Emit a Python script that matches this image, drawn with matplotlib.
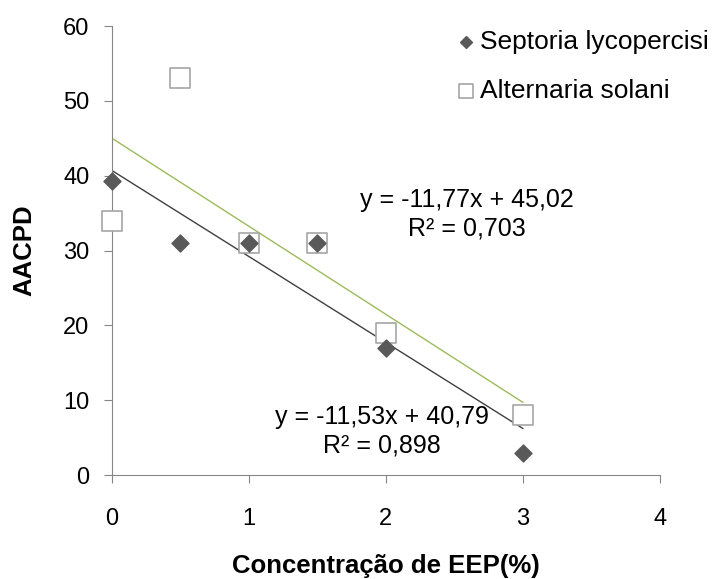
import matplotlib.pyplot as plt
import numpy as np

plt.rcParams['font.family'] = ['Liberation Sans', 'DejaVu Sans']

# dados
conc = [0, 0.5, 1, 1.5, 2, 3]
septoria = [39.3, 31, 31, 31, 17, 3]
alternaria = [34, 53, 31, 31, 19, 8]
eq_septoria = 'y = -11,53x + 40,79\nR² = 0,898'
eq_alternaria = 'y = -11,77x + 45,02\nR² = 0,703'

fig = plt.figure(figsize=(7.18, 5.79), dpi=100)
ax = fig.add_axes([0.1556, 0.1796, 0.919 - 0.1556, 0.955 - 0.1796])

# linhas de tendência
xs = np.array([0, 3])
a1, b1 = np.polyfit(conc, septoria, 1)
a2, b2 = np.polyfit(conc, alternaria, 1)
ax.plot(xs, a2 * xs + b2, color='#9bbb59', lw=1, zorder=2)
ax.plot(xs, a1 * xs + b1, color='#404040', lw=1, zorder=2)

# pontos
ax.scatter(conc, alternaria, marker='s', s=190, facecolor='white',
           edgecolor='#a6a6a6', linewidths=1.2, zorder=3, clip_on=False,
           label='Alternaria solani')
ax.scatter(conc, septoria, marker='D', s=75, color='#595959',
           zorder=4, clip_on=False, label='Septoria lycopercisi')

ax.text(2.59, 34.8, eq_alternaria, ha='center', va='center', fontsize=18,
        linespacing=1.25)
ax.text(1.97, 5.8, eq_septoria, ha='center', va='center', fontsize=18,
        linespacing=1.25)

ax.set_xlim(0, 4)
ax.set_ylim(0, 60)
ax.set_xticks([0, 1, 2, 3, 4])
ax.set_yticks(range(0, 61, 10))
for s in ['top', 'right']:
    ax.spines[s].set_visible(False)
for s in ['left', 'bottom']:
    ax.spines[s].set_color('#868686')
ax.tick_params(axis='both', direction='out', length=6, color='#868686',
               labelsize=17)
ax.tick_params(axis='x', pad=18)
ax.tick_params(axis='y', pad=10)

ax.set_xlabel('Concentração de EEP(%)', fontsize=18.5, fontweight='bold', va='center')
ax.set_ylabel('AACPD', fontsize=18.5, fontweight='bold', va='center')
ax.xaxis.set_label_coords(0.5, -0.203)
ax.yaxis.set_label_coords(-0.16, 0.5)

h, l = ax.get_legend_handles_labels()
leg = ax.legend(h[::-1], l[::-1], loc='upper left', bbox_to_anchor=(0.6, 1.015),
                frameon=False, fontsize=19, handletextpad=0.0,
                labelspacing=0.95, borderaxespad=0, handlelength=1.1,
                scatterpoints=1, markerscale=0.7)

fig.savefig('out.png', dpi=100)
